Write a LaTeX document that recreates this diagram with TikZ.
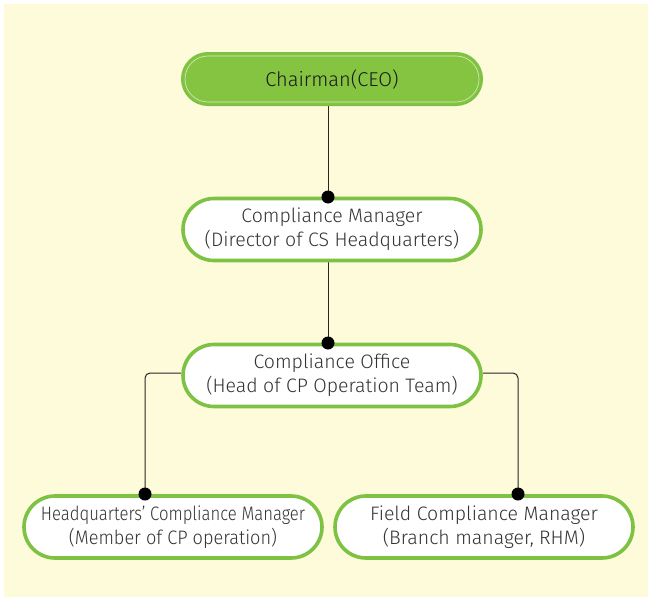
\documentclass[tikz,border=0pt]{standalone}
\usepackage{fontspec}
\setmainfont{Fira Sans Light}
\usetikzlibrary{backgrounds}
\definecolor{bgyellow}{HTML}{FEFBDA}
\definecolor{leaf}{HTML}{84C441}
\definecolor{leafline}{HTML}{7DC242}
\definecolor{inkgray}{HTML}{333333}
\tikzset{
  x=1pt,y=-1pt,
  pill/.style={draw=leafline,line width=3.6pt,fill=white,rounded corners=31pt,
    minimum width=298pt,minimum height=62pt,align=center,text=inkgray,
    font=\fontsize{19.5}{24}\selectfont,inner sep=0pt},
  toppill/.style={draw=leafline,line width=2pt,fill=leaf,rounded corners=26pt,
    minimum width=300pt,minimum height=52pt,align=center,text=black!90,
    font=\fontsize{20}{24}\selectfont,inner sep=0pt},
  link/.style={draw=black!85,line width=1pt},
  joint/.style={circle,fill=black,inner sep=0pt,minimum size=13pt}
}
\begin{document}
\begin{tikzpicture}
\useasboundingbox (0,0) rectangle (648,597);
\node[toppill] (ceo) at (332,79) {Chairman(CEO)};
\draw[white!70!leaf,line width=0.6pt,rounded corners=23pt] (185,56) rectangle (479,102);
\node[pill] (cm) at (332,229.5) {Compliance Manager\\(Director of CS Headquarters)};
\node[pill] (co) at (332,375.5) {Compliance Office\\(Head of CP Operation Team)};
\node[pill] (hq) at (173,527) {\scalebox{0.855}[1]{Headquarters’ Compliance Manager}\\\scalebox{0.93}[1]{(Member of CP operation)}};
\node[pill] (fc) at (484,527) {Field Compliance Manager\\(Branch manager, RHM)};
\coordinate (d1) at (328,197);
\coordinate (d2) at (328,343);
\coordinate (d3) at (145,494);
\coordinate (d4) at (518,494);
\begin{scope}[on background layer]
\fill[bgyellow] (4,4) rectangle (648,597);
\draw[link] (ceo.south -| d1) -- (d1);
\draw[link] (cm.south -| d2) -- (d2);
\draw[link,rounded corners=5pt] (co.west |- 0,373) -| (d3);
\draw[link,rounded corners=5pt] (co.east |- 0,373) -| (d4);
\end{scope}
\node[joint] (j1) at (d1) {};
\node[joint] (j2) at (d2) {};
\node[joint] (j3) at (d3) {};
\node[joint] (j4) at (d4) {};
\end{tikzpicture}
\end{document}
